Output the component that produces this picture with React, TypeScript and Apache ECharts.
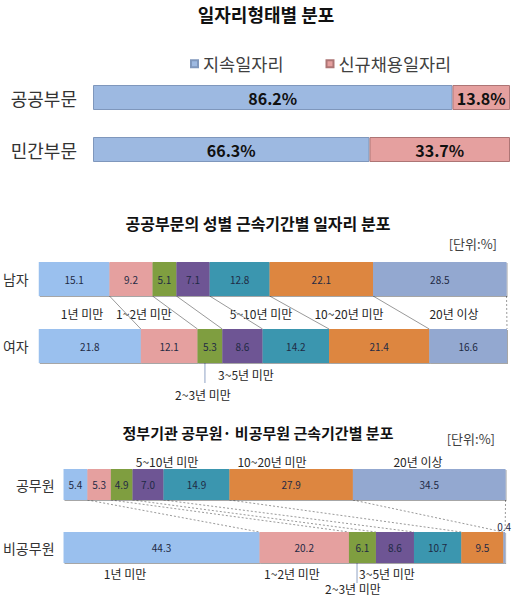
import * as echarts from 'echarts';
import { useEffect, useRef } from 'react';

// 일자리형태별 분포
const sectorCats = ['공공부문', '민간부문'];
const continuingJobs = [86.2, 66.3];
const newJobs = [13.8, 33.7];
const jobTypeNames = ['지속일자리', '신규채용일자리'];

// 근속기간 구분
const tenureNames = ['1년 미만', '1~2년 미만', '2~3년 미만', '3~5년 미만', '5~10년 미만', '10~20년 미만', '20년 이상'];

// 공공부문의 성별 근속기간별 분포
const genderCats = ['남자', '여자'];
const maleValues = [15.1, 9.2, 5.1, 7.1, 12.8, 22.1, 28.5];
const femaleValues = [21.8, 12.1, 5.3, 8.6, 14.2, 21.4, 16.6];

// 정부기관 공무원·비공무원 근속기간별 분포
const govCats = ['공무원', '비공무원'];
const civilValues = [5.4, 5.3, 4.9, 7.0, 14.9, 27.9, 34.5];
const nonCivilValues = [44.3, 20.2, 6.1, 8.6, 10.7, 9.5, 0.4];

const FONT = '"Noto Sans CJK KR", "Noto Sans", sans-serif';
const tenureColors = ['#9AC0EE', '#E5A09F', '#7F9E3F', '#6E5494', '#3B96AF', '#DD8641', '#93A8D0'];

const cumsum = (arr: number[]) => {
    let s = 0;
    return arr.map((v) => (s += v));
};

const text = (t: string, x: number, y: number, opts: any = {}) => ({
    type: 'text',
    x,
    y,
    silent: true,
    style: {
        text: t,
        fill: opts.fill || '#262626',
        fontSize: opts.fontSize || 12,
        fontWeight: opts.fontWeight || 'normal',
        fontFamily: FONT,
        align: opts.align || 'center',
        verticalAlign: 'middle',
        textAlign: opts.align || 'center',
        textVerticalAlign: 'middle',
    },
});

const App = () => {
    const chartRef = useRef(null);

    useEffect(() => {
        const chart = echarts.init(chartRef.current, null, { renderer: 'svg' });

        const midBar = 34;
        const botBar = 31;

        const tenureSeries = (idx: number, cats: string[], top: number[], bottom: number[], barW: number) =>
            tenureNames.map((name, i) => ({
                name,
                type: 'bar',
                stack: 'g' + idx,
                xAxisIndex: idx,
                yAxisIndex: idx,
                barWidth: barW,
                itemStyle: {
                    color: tenureColors[i],
                    shadowColor: 'rgba(0,0,0,0.35)',
                    shadowOffsetX: 1,
                    shadowOffsetY: 1,
                    shadowBlur: 1,
                },
                label: {
                    show: true,
                    position: 'inside',
                    fontSize: 10,
                    fontFamily: FONT,
                    color: '#1F2A44',
                    formatter: (p: any) => Number(p.value).toFixed(1),
                },
                data: [top[i], bottom[i]].map((v, j) =>
                    v < 1 && j === 1 ? { value: v, label: { position: 'top', distance: 1 } } : v
                ),
            }));

        const connectors = (idx: number, top: number[], bottom: number[], barW: number, dashed: boolean) => {
            const a = cumsum(top);
            const b = cumsum(bottom);
            const data = a.map((v, i) => [v, b[i], 0]);
            return {
                type: 'custom',
                xAxisIndex: idx,
                yAxisIndex: idx,
                silent: true,
                z: 1,
                encode: { x: [0, 1], y: 2 },
                data,
                renderItem: (params: any, api: any) => {
                    const p1 = api.coord([api.value(0), 0]);
                    const p2 = api.coord([api.value(1), 1]);
                    const last = params.dataIndex === data.length - 1;
                    return {
                        type: 'line',
                        shape: { x1: p1[0], y1: p1[1] + barW / 2, x2: p2[0], y2: p2[1] - barW / 2 },
                        style: { stroke: '#9a9a9a', lineWidth: 1, lineDash: dashed || last ? [2, 2] : null },
                    };
                },
            };
        };

        // 2~3년 미만 leader line under the lower bar
        const leader = (idx: number, bottom: number[], barW: number) => {
            const start = cumsum(bottom)[1];
            return {
                type: 'custom',
                xAxisIndex: idx,
                yAxisIndex: idx,
                silent: true,
                z: 1,
                encode: { x: 0, y: 1 },
                data: [[start + bottom[2] * 0.3, 1]],
                renderItem: (_p: any, api: any) => {
                    const p = api.coord([api.value(0), 1]);
                    return {
                        type: 'line',
                        shape: { x1: p[0], y1: p[1] + barW / 2, x2: p[0], y2: p[1] + barW / 2 + 20 },
                        style: { stroke: '#8FA3C4', lineWidth: 1 },
                    };
                },
            };
        };

        const catAxis = (idx: number, data: string[], fontSize: number, margin: number) => ({
            type: 'category',
            gridIndex: idx,
            data,
            inverse: true,
            axisLine: { show: false },
            axisTick: { show: false },
            axisLabel: { fontSize, margin, color: '#333', fontFamily: FONT },
        });

        const valAxis = (idx: number) => ({ type: 'value', gridIndex: idx, min: 0, max: 100, show: false });

        const option = {
            animation: false,
            textStyle: { fontFamily: FONT },
            legend: {
                data: jobTypeNames,
                icon: 'rect',
                left: 185,
                top: 50,
                itemWidth: 7,
                itemHeight: 7,
                itemGap: 42,
                textStyle: { fontSize: 17.5, color: '#404040', fontFamily: FONT },
            },
            grid: [
                { left: 93, width: 417, top: 71.5, height: 104 },
                { left: 38, width: 469, top: 245.5, height: 134 },
                { left: 54, width: 452, top: 453, height: 126 },
            ],
            xAxis: [valAxis(0), valAxis(1), valAxis(2)],
            yAxis: [catAxis(0, sectorCats, 18, 16), catAxis(1, genderCats, 14, 10), catAxis(2, govCats, 14, 9)],
            series: [
                ...[continuingJobs, newJobs].map((vals, i) => ({
                    name: jobTypeNames[i],
                    type: 'bar',
                    stack: 'jobs',
                    xAxisIndex: 0,
                    yAxisIndex: 0,
                    barWidth: 25,
                    itemStyle: {
                        color: i === 0 ? '#9DB9E1' : '#E5A09F',
                        borderColor: i === 0 ? '#7F97BC' : '#AD7575',
                        borderWidth: 1,
                    },
                    label: {
                        show: true,
                        position: 'inside',
                        fontSize: 16,
                        fontWeight: 'bold',
                        color: '#111',
                        fontFamily: FONT,
                        formatter: (p: any) => Number(p.value).toFixed(1) + '%',
                    },
                    data: vals,
                })),
                ...tenureSeries(1, genderCats, maleValues, femaleValues, midBar),
                connectors(1, maleValues, femaleValues, midBar, false),
                leader(1, femaleValues, midBar),
                ...tenureSeries(2, govCats, civilValues, nonCivilValues, botBar),
                connectors(2, civilValues, nonCivilValues, botBar, true),
                leader(2, nonCivilValues, botBar),
            ],
            graphic: [
                text('일자리형태별 분포', 266, 14, { fontSize: 18, fontWeight: 'bold', fill: '#111' }),
                text('공공부문의 성별 근속기간별 일자리 분포', 258, 223, { fontSize: 16, fontWeight: 'bold', fill: '#111' }),
                text('[단위:%]', 497, 243, { fontSize: 13, align: 'right', fill: '#404040' }),
                text('정부기관 공무원· 비공무원 근속기간별 분포', 258, 432, { fontSize: 15, fontWeight: 'bold', fill: '#111' }),
                text('[단위:%]', 495, 438, { fontSize: 13, align: 'right', fill: '#404040' }),
                // 공공부문 성별 구간명
                text(tenureNames[0], 82, 313),
                text(tenureNames[1], 144, 313),
                text(tenureNames[4], 261, 313),
                text(tenureNames[5], 349, 313),
                text(tenureNames[6], 454, 313),
                text(tenureNames[3], 246, 374),
                text(tenureNames[2], 203, 394),
                // 공무원/비공무원 구간명
                text(tenureNames[4], 167, 461),
                text(tenureNames[5], 272, 461),
                text(tenureNames[6], 418, 461),
                text(tenureNames[0], 125, 573),
                text(tenureNames[1], 292, 573),
                text(tenureNames[3], 387, 573),
                text(tenureNames[2], 353, 588),
            ],
        };

        chart.setOption(option);

        return () => {
            chart.dispose();
        };
    }, []);

    return <div ref={chartRef} style={{ position: 'absolute', left: 0, top: 0, width: 519, height: 608 }} />;
};

export default App;
